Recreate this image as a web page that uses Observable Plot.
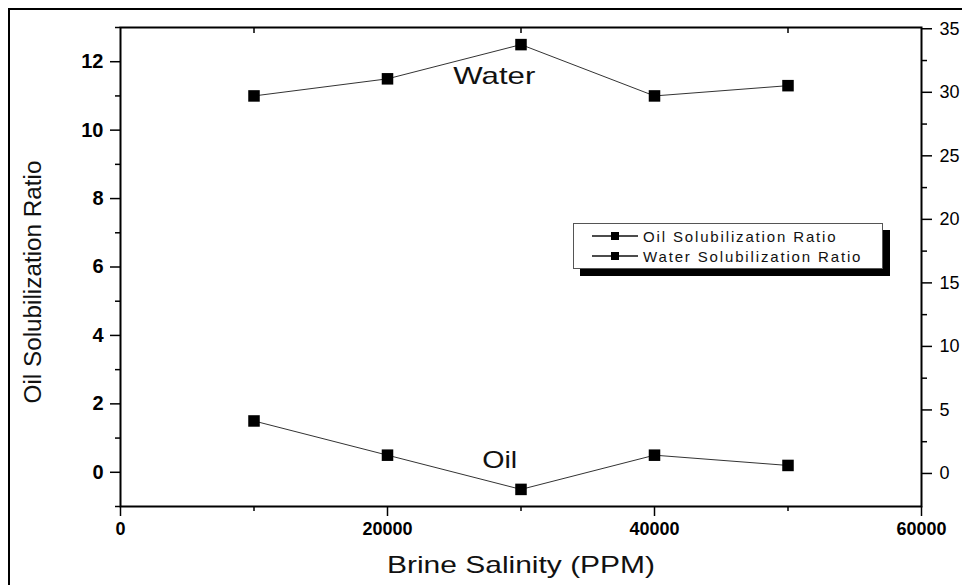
<!DOCTYPE html>
<html><head><meta charset="utf-8">
<script src="https://cdn.jsdelivr.net/npm/d3@7"></script>
<script src="https://cdn.jsdelivr.net/npm/@observablehq/plot@0.6"></script>
<style>
body{margin:0;background:#fff;}
#wrap{position:relative;width:962px;height:585px;overflow:hidden;font-family:"Liberation Sans",Arial,sans-serif;background:#fff;}
#chart{position:absolute;left:0;top:0;}
#border{position:absolute;left:8px;top:8px;width:1000px;height:600px;border:2px solid #000;box-sizing:border-box;pointer-events:none;}
#legend{position:absolute;left:573px;top:223px;width:310px;height:46px;box-sizing:border-box;border:1px solid #555;background:#fff;box-shadow:7px 7px 0 #000;}
.row{position:absolute;left:0;height:20px;display:flex;align-items:center;white-space:nowrap;}
.row svg{margin-left:18px;}
.row span{margin-left:5px;font-size:15px;letter-spacing:1.85px;color:#111;}
</style></head><body>
<div id="wrap"><div id="chart"></div><div id="border"></div><div id="legend"></div></div>
<script>
const salinity = [10000, 20000, 30000, 40000, 50000];
const oilRatio = [1.5, 0.5, -0.5, 0.5, 0.2];
const waterRatio = [11, 11.5, 12.5, 11, 11.3];
const xMajor = [0, 20000, 40000, 60000];
const xMinor = [10000, 30000, 50000];
const yLeftMajor = [0, 2, 4, 6, 8, 10, 12];
const yLeftMinor = [-1, 1, 3, 5, 7, 9, 11, 13];
const yRightMajor = [0, 5, 10, 15, 20, 25, 30, 35];
const yRightMinor = [2.5, 7.5, 12.5, 17.5, 22.5, 27.5, 32.5];
const seriesNames = ["Oil Solubilization Ratio", "Water Solubilization Ratio"];
const curveLabels = ["Water", "Oil"];
const curveLabelX = [28000, 28400];
const curveLabelY = [11.57, 0.35];
const xTitle = "Brine Salinity (PPM)";
const yTitle = "Oil Solubilization Ratio";
const xDomain = [0, 60000];
const leftDomain = [-1, 13];
const rightDomain = [-2.6, 35.1];

const toLeft = r => leftDomain[0] + (r - rightDomain[0]) * (leftDomain[1] - leftDomain[0]) / (rightDomain[1] - rightDomain[0]);
const toRight = l => rightDomain[0] + (l - leftDomain[0]) * (rightDomain[1] - rightDomain[0]) / (leftDomain[1] - leftDomain[0]);

const data = salinity.map((s, i) => ({s, oil: oilRatio[i], water: waterRatio[i]}));
const labels = curveLabels.map((t, i) => ({t, x: curveLabelX[i], y: curveLabelY[i]}));
const font = '"Liberation Sans", Arial, sans-serif';

const chart = Plot.plot({
  width: 962, height: 585,
  marginLeft: 120, marginRight: 41, marginTop: 27, marginBottom: 79,
  style: {fontFamily: font, background: "transparent", color: "#000"},
  x: {domain: xDomain},
  y: {domain: leftDomain},
  marks: [
    Plot.axisY(yLeftMajor, {anchor: "left", tickSize: 10, tickPadding: 7, fontSize: 20, fontWeight: "bold", label: null, strokeWidth: 1.5}),
    Plot.axisY(yLeftMinor, {anchor: "left", tickSize: 5, fill: "none", label: null, strokeWidth: 1.5}),
    Plot.axisY(yRightMajor.map(toLeft), {anchor: "right", tickSize: 10, tickPadding: 8, fontSize: 18, label: null, strokeWidth: 1.5, tickFormat: d => String(Math.round(toRight(d)))}),
    Plot.axisY(yRightMinor.map(toLeft), {anchor: "right", tickSize: 5, fill: "none", label: null, strokeWidth: 1.5}),
    Plot.axisX(xMajor, {anchor: "bottom", tickSize: 10, tickPadding: 6, fontSize: 18, fontWeight: "bold", label: null, strokeWidth: 1.5, tickFormat: d => String(d)}),
    Plot.axisX(xMinor, {anchor: "bottom", tickSize: 5, fill: "none", label: null, strokeWidth: 1.5}),
    Plot.axisX(xMinor, {anchor: "top", tickSize: -5, fill: "none", label: null, strokeWidth: 1.5}),
    Plot.frame({stroke: "#000", strokeWidth: 2}),
    Plot.line(data, {x: "s", y: "oil", stroke: "#333", strokeWidth: 1}),
    Plot.line(data, {x: "s", y: "water", stroke: "#333", strokeWidth: 1}),
    Plot.dot(data, {x: "s", y: "oil", symbol: "square", r: 6.5, fill: "#000"}),
    Plot.dot(data, {x: "s", y: "water", symbol: "square", r: 6.5, fill: "#000"}),
    Plot.text(labels, {x: "x", y: "y", text: "t", fontSize: 24, fill: "#111"}),
    Plot.text([xTitle], {frameAnchor: "bottom", dy: 59, lineAnchor: "middle", textAnchor: "middle", fontSize: 24, fill: "#111"}),
    Plot.text([yTitle], {frameAnchor: "left", dx: -87, dy: 15, textAnchor: "middle", lineAnchor: "middle", rotate: -90, fontSize: 23, fill: "#111"})
  ]
});
document.getElementById("chart").appendChild(chart);

// horizontal stretch of the reference's text
const stretch = new Map([[xTitle, 268], [yTitle, 243], ["Water", 82], ["Oil", 35]]);
d3.select(chart).selectAll("text").each(function () {
  const w = stretch.get(this.textContent);
  if (w) d3.select(this).attr("textLength", w).attr("lengthAdjust", "spacingAndGlyphs");
});

const legend = document.getElementById("legend");
seriesNames.forEach((name, i) => {
  const row = document.createElement("div");
  row.className = "row";
  row.style.top = (2 + i * 20) + "px";
  row.innerHTML = `<svg width="46" height="12"><line x1="0" y1="6" x2="46" y2="6" stroke="#111" stroke-width="1.3"/><rect x="19" y="2" width="8" height="8" fill="#000"/></svg><span>${name}</span>`;
  legend.appendChild(row);
});
</script>
</body></html>
